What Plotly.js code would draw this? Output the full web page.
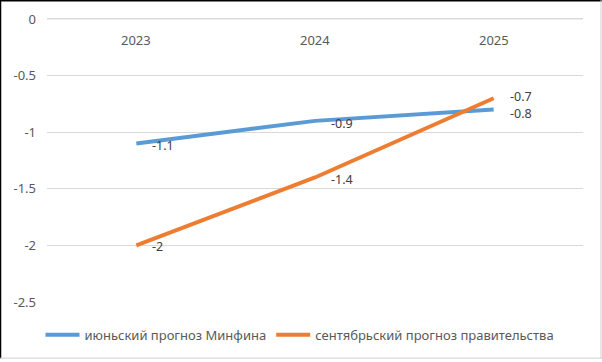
<!DOCTYPE html>
<html>
<head>
<meta charset="utf-8">
<script src="https://cdn.plot.ly/plotly-3.0.1.min.js"></script>
<style>html,body{margin:0;padding:0;background:#fff;}#chart{width:602px;height:362px;}</style>
</head>
<body>
<div id="chart"></div>
<script>
var years = ['2023', '2024', '2025'];
var minfinJune = [-1.1, -0.9, -0.8];
var govSeptember = [-2, -1.4, -0.7];
var seriesNames = ['июньский прогноз Минфина', 'сентябрьский прогноз правительства'];
var yTicks = [0, -0.5, -1, -1.5, -2, -2.5];
var yTickText = ['0', '-0.5', '-1', '-1.5', '-2', '-2.5'];

var W = 602, H = 362, L = 47, R = 19, T = 17, B = 58;
var pw = W - L - R, ph = H - T - B;
function px(x){ return (x - L) / pw; }
function py(y){ return (H - B - y) / ph; }
var yRange = [-2.5, 0.0175];
var zeroFrac = (0 - yRange[0]) / (yRange[1] - yRange[0]);

var fontFam = 'Noto Sans, Open Sans, sans-serif';
var colors = ['#5B9BD5', '#ED7D31'];
var allSeries = [minfinJune, govSeptember];

var traces = allSeries.map(function(vals, k){
  return {x: years, y: vals, name: seriesNames[k], mode: 'lines', type: 'scatter',
          line: {color: colors[k], width: 4}, cliponaxis: false};
});

var annos = [];
years.forEach(function(yr, i){
  annos.push({x: i, y: 0, xref: 'x', yref: 'y', text: yr, showarrow: false,
    xanchor: 'center', yanchor: 'middle', yshift: -21,
    font: {size: 13, color: '#595959'}});
});
var labelYShift = [[-2, -3, -3.5], [-1, -2, 1.5]];
allSeries.forEach(function(vals, k){
  vals.forEach(function(v, i){
    annos.push({x: i, y: v, xref: 'x', yref: 'y', text: String(v), showarrow: false,
      xanchor: 'left', yanchor: 'middle', xshift: 14, yshift: labelYShift[k][i],
      font: {size: 12.5, color: '#404040'}});
  });
});

var layout = {
  width: W, height: H,
  margin: {l: L, r: R, t: T, b: B, pad: 0},
  paper_bgcolor: '#ffffff', plot_bgcolor: '#ffffff',
  font: {family: fontFam, size: 13, color: '#595959'},
  showlegend: true,
  legend: {orientation: 'h', x: px(300), xanchor: 'center', y: py(337), yanchor: 'middle',
           font: {size: 13, color: '#595959', family: fontFam}, itemwidth: 34},
  xaxis: {type: 'category', range: [-0.5, 2.5], showgrid: false, zeroline: false,
          showline: false, ticks: '', showticklabels: false, fixedrange: true},
  yaxis: {range: yRange, tickvals: yTicks, ticktext: yTickText, showgrid: true,
          gridcolor: '#d9d9d9', gridwidth: 1, zeroline: true, zerolinecolor: '#d9d9d9',
          zerolinewidth: 1, showline: false, ticks: '',
          ticklabelstandoff: 10,
          tickfont: {size: 13, color: '#595959', family: fontFam}, fixedrange: true},
  annotations: annos,
  shapes: [
    {type: 'line', xref: 'paper', yref: 'paper', x0: 0, x1: 1, y0: zeroFrac, y1: zeroFrac, line: {color: '#d9d9d9', width: 1.2}, layer: 'above'},
    {type: 'line', xref: 'paper', yref: 'paper', x0: px(0.5), x1: px(0.5), y0: py(0), y1: py(361), line: {color: '#000', width: 1.5}},
    {type: 'line', xref: 'paper', yref: 'paper', x0: px(0), x1: px(602), y0: py(0.75), y1: py(0.75), line: {color: '#000', width: 1.5}},
    {type: 'line', xref: 'paper', yref: 'paper', x0: px(601), x1: px(601), y0: py(0), y1: py(361), line: {color: '#d0d0d0', width: 1}},
    {type: 'line', xref: 'paper', yref: 'paper', x0: px(0), x1: px(602), y0: py(360.5), y1: py(360.5), line: {color: '#d0d0d0', width: 1}}
  ]
};

Plotly.newPlot('chart', traces, layout, {displayModeBar: false, staticPlot: true});
</script>
</body>
</html>
